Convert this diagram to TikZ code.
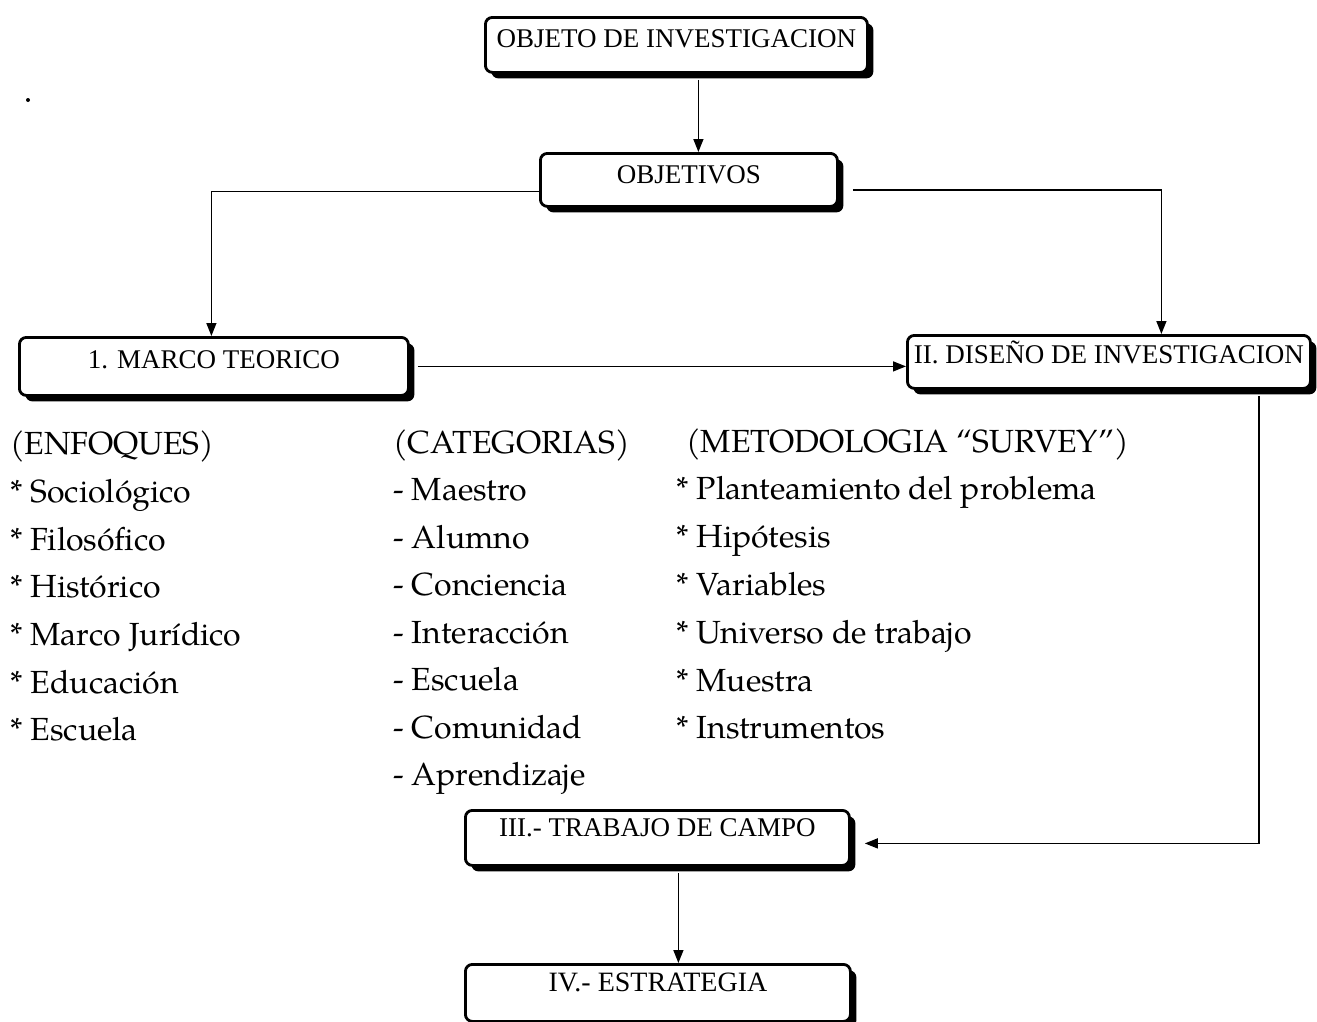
\documentclass[tikz,border=0pt]{standalone}
\usepackage{fontspec}
\setmainfont{Liberation Serif}
\newfontfamily\pala{TeX Gyre Pagella}
\usetikzlibrary{shadows,arrows.meta}
\begin{document}
\begin{tikzpicture}[x=1pt,y=-1pt,
  box/.style={draw, line width=2.8pt, rounded corners=7pt, fill=white,
    inner xsep=0pt, inner ysep=0pt, anchor=north west,
    font=\fontsize{27}{32}\selectfont,
    drop shadow={shadow xshift=6pt, shadow yshift=-6pt, fill=black, opacity=1}},
  conn/.style={line width=1.4pt},
  arr/.style={conn, -{Triangle[length=13pt,width=10pt]}},
  item/.style={anchor=base west, inner sep=0pt, font=\pala\fontsize{32}{38}\selectfont}]
\useasboundingbox (0,0) rectangle (1317,1021);

% boxes
\node[box, minimum width=382pt, text height=30pt, text depth=25pt] (obj) at (484,16) {OBJETO DE INVESTIGACION};
\node[box, minimum width=297pt, text height=30pt, text depth=23pt] (objv) at (539,152) {OBJETIVOS};
\node[box, minimum width=389pt, text height=31pt, text depth=27pt] (marco) at (18,336) {1. MARCO TEORICO};
\node[box, minimum width=403pt, text height=28pt, text depth=25pt] (dis) at (906,334) {II. DISEÑO DE INVESTIGACION};
\node[box, minimum width=384pt, text height=26pt, text depth=29pt] (trab) at (464,809) {III.- TRABAJO DE CAMPO};
\node[box, minimum width=385pt, text height=27pt, text depth=30pt, font=\fontsize{28}{32}\selectfont] (estr) at (464,963) {IV.- ESTRATEGIA};

% connectors
\coordinate (c1) at ([xshift=22pt,yshift=-6pt]obj.south);
\draw[arr] (c1) -- (c1 |- objv.north);
\coordinate (c2) at ([yshift=-11.5pt]objv.west);
\draw[arr] (c2) -| ([xshift=-2.5pt]marco.north);
\coordinate (c3) at ([xshift=14pt,yshift=-10pt]objv.east);
\draw[arr] (c3) -| ([xshift=52.5pt]dis.north);
\coordinate (c6) at ([xshift=8pt]marco.east);
\draw[arr] (c6) -- (c6 -| dis.west);
\coordinate (c4) at ([xshift=150pt,yshift=-6pt]dis.south);
\draw[arr] (c4) |- ([xshift=14pt,yshift=-5.5pt]trab.east);
\coordinate (c5) at ([xshift=21pt,yshift=-6pt]trab.south);
\draw[arr] (c5) -- (c5 |- estr.north);

% stray dot
\fill (28,100) circle (2pt);

% lists
\node[item] (e0) at (10,454) {(ENFOQUES)};
\foreach \t [count=\i] in {Sociológico,Filosófico,Histórico,Marco Jurídico,Educación,Escuela}
  \node[item] (e\i) at (10,{455+47.6*\i}) {* \t};

\node[item] (k0) at (393,453) {(CATEGORIAS)};
\foreach \t [count=\i] in {Maestro,Alumno,Conciencia,Interacción,Escuela,Comunidad,Aprendizaje}
  \node[item] (k\i) at (393,{453+47.5*\i}) {- \t};

\node[item] (m0) at (686,452) {(METODOLOGIA “SURVEY”)};
\foreach \t [count=\i] in {Planteamiento del problema,Hipótesis,Variables,Universo de trabajo,Muestra,Instrumentos}
  \node[item] (m\i) at (676,{452+47.8*\i}) {* \t};
\end{tikzpicture}
\end{document}
